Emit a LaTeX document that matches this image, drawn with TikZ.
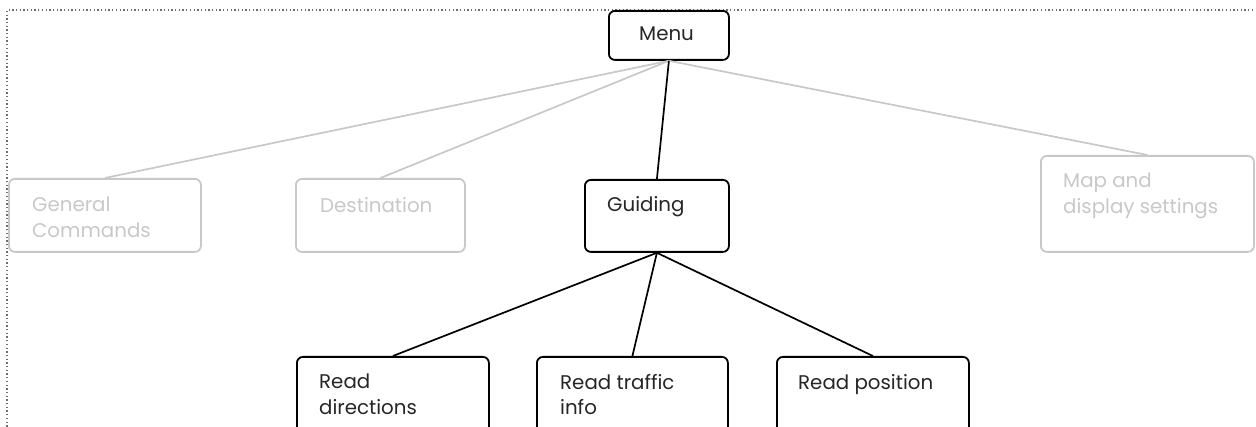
\documentclass[tikz,border=0pt]{standalone}
\usepackage{fontspec}
\setmainfont{Poppins}
\definecolor{inactive}{HTML}{C8C8C8}
\definecolor{framegray}{HTML}{6E6E6E}
\begin{document}
\begin{tikzpicture}[x=1pt,y=-1pt,
  box/.style={draw, rounded corners=6pt, line width=1.8pt, inner sep=0pt, anchor=north west},
  activebox/.style={box, draw=black},
  dimbox/.style={box, draw=inactive},
  lbl/.style={anchor=north west, inner sep=0pt, align=left,
    font=\fontsize{19.8}{25.5}\selectfont},
  activelbl/.style={lbl, text=black!85},
  dimlbl/.style={lbl, text=inactive},
  activelink/.style={draw=black, line width=1.7pt},
  dimlink/.style={draw=inactive, line width=1.7pt}]
\useasboundingbox (0,0) rectangle (1256,427);
\clip (0,0) rectangle (1256,427);

% dotted frame
\draw[framegray, line width=1.3pt, dash pattern=on 1.3pt off 2.4pt] (1253,10) -- (7,10) -- (7,430);

% boxes
\node[activebox, minimum width=120pt, minimum height=49pt] (menu) at (608,10) {};
\node[dimbox, minimum width=192pt, minimum height=73pt] (gen) at (8,178) {};
\node[dimbox, minimum width=169pt, minimum height=73pt] (dest) at (295,178) {};
\node[activebox, minimum width=144pt, minimum height=72pt] (guide) at (584,179) {};
\node[dimbox, minimum width=213pt, minimum height=96pt] (map) at (1040,155) {};
\node[activebox, minimum width=192pt, minimum height=90pt] (rdir) at (296,356) {};
\node[activebox, minimum width=191pt, minimum height=90pt] (rtraf) at (536,356) {};
\node[activebox, minimum width=192pt, minimum height=90pt] (rpos) at (776,356) {};

% labels
\node[activelbl] (menut) at ([shift={(31,17)}]menu.north west) {Menu};
\node[dimlbl] (gent) at ([shift={(24,19)}]gen.north west) {General\\Commands};
\node[dimlbl] (destt) at ([shift={(25,19)}]dest.north west) {Destination};
\node[activelbl] (guidet) at ([shift={(23,17)}]guide.north west) {Guiding};
\node[dimlbl] (mapt) at ([shift={(23,18)}]map.north west) {Map and\\display settings};
\node[activelbl] (rdirt) at ([shift={(23,18)}]rdir.north west) {Read\\directions};
\node[activelbl] (rtraft) at ([shift={(24,18)}]rtraf.north west) {Read traffic\\info};
\node[activelbl] (rpost) at ([shift={(22,18)}]rpos.north west) {Read position};

% connectors
\draw[dimlink] (menu.south) -- (gen.north);
\draw[dimlink] (menu.south) -- (dest.north);
\draw[dimlink] (menu.south) -- (map.north);
\draw[activelink] (menu.south) -- (guide.north);
\draw[activelink] (guide.south) -- (rdir.north);
\draw[activelink] (guide.south) -- (rtraf.north);
\draw[activelink] (guide.south) -- (rpos.north);
\end{tikzpicture}
\end{document}
